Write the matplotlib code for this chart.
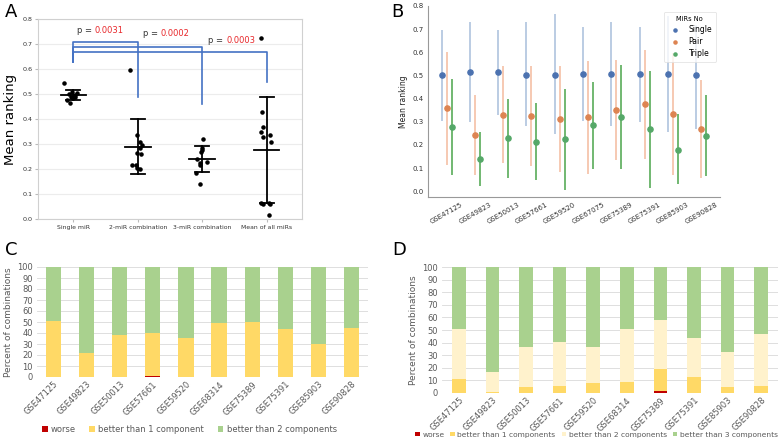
import matplotlib
matplotlib.use('Agg')
import matplotlib.pyplot as plt
import numpy as np

W, H = 778, 438

# ---------- data ----------
# panel A
groups_a = ['Single miR', '2-miR combination', '3-miR combination', 'Mean of all miRs']
means_a = [0.497, 0.290, 0.240, 0.278]
lo_a = [0.476, 0.180, 0.187, 0.065]
hi_a = [0.518, 0.400, 0.293, 0.490]
points_a = [
    [0.545, 0.510, 0.505, 0.500, 0.495, 0.490, 0.490, 0.485, 0.475, 0.465],
    [0.595, 0.335, 0.310, 0.295, 0.285, 0.265, 0.260, 0.215, 0.215, 0.205, 0.200],
    [0.320, 0.285, 0.275, 0.270, 0.240, 0.230, 0.225, 0.215, 0.185, 0.140],
    [0.725, 0.430, 0.370, 0.350, 0.335, 0.330, 0.310, 0.065, 0.060, 0.060, 0.065, 0.015],
]
jitter_a = [
    [-0.14, -0.02, 0.05, -0.07, 0.02, -0.04, 0.03, 0.00, -0.10, -0.05],
    [-0.12, -0.01, 0.04, 0.07, 0.03, -0.02, 0.05, -0.09, -0.03, -0.01, 0.03],
    [0.02, -0.01, 0.00, -0.02, -0.08, 0.07, -0.04, -0.03, -0.10, -0.03],
    [-0.08, -0.07, -0.05, -0.09, 0.05, -0.06, 0.07, 0.04, -0.05, 0.06, -0.08, 0.03],
]
brackets_a = [0.71, 0.69, 0.67]        # heights of the blue brackets
bracket_ends_a = [0.49, 0.46, 0.55]    # lower ends of the right legs
bracket_start_a = 0.63
pvals_a = ['0.0031', '0.0002', '0.0003']
pval_y_a = [0.755, 0.74, 0.715]

# panel B
datasets_b = ['GSE47125', 'GSE49823', 'GSE50013', 'GSE57661', 'GSE59520',
              'GSE67075', 'GSE75389', 'GSE75391', 'GSE85903', 'GSE90828']
hue_b = ['Single', 'Pair', 'Triple']
single_mean = [0.500, 0.513, 0.513, 0.503, 0.503, 0.508, 0.505, 0.505, 0.508, 0.502]
single_lo = [0.305, 0.300, 0.330, 0.280, 0.245, 0.305, 0.280, 0.300, 0.255, 0.268]
single_hi = [0.695, 0.730, 0.695, 0.730, 0.765, 0.710, 0.732, 0.708, 0.758, 0.720]
pair_mean = [0.360, 0.243, 0.330, 0.325, 0.312, 0.320, 0.352, 0.375, 0.333, 0.268]
pair_lo = [0.115, 0.070, 0.120, 0.110, 0.083, 0.075, 0.135, 0.140, 0.070, 0.058]
pair_hi = [0.600, 0.415, 0.540, 0.540, 0.540, 0.563, 0.565, 0.610, 0.595, 0.480]
triple_mean = [0.278, 0.138, 0.228, 0.213, 0.225, 0.285, 0.322, 0.267, 0.180, 0.240]
triple_lo = [0.068, 0.022, 0.055, 0.048, 0.007, 0.097, 0.095, 0.012, 0.030, 0.065]
triple_hi = [0.485, 0.255, 0.400, 0.380, 0.443, 0.470, 0.545, 0.520, 0.335, 0.415]

# panel C
datasets_c = ['GSE47125', 'GSE49823', 'GSE50013', 'GSE57661', 'GSE59520',
              'GSE68314', 'GSE75389', 'GSE75391', 'GSE85903', 'GSE90828']
worse_c = [0, 0, 0, 1.0, 0, 0, 0, 0, 0, 0]
better1_c = [50.6, 21.8, 37.9, 38.7, 35.5, 49.0, 50.0, 44.0, 30.3, 44.8]
better2_c = [100 - w - b for w, b in zip(worse_c, better1_c)]

# panel D
worse_d = [0, 0, 0, 0, 0, 0, 1.2, 0, 0, 0]
better1_d = [10.9, 0.8, 4.5, 5.3, 8.0, 9.0, 17.7, 12.8, 4.8, 5.9]
better2_d = [39.9, 16.0, 32.2, 35.4, 28.7, 41.8, 39.1, 30.6, 27.4, 40.6]
better3_d = [100 - w - a - b for w, a, b in zip(worse_d, better1_d, better2_d)]

# ---------- helpers ----------
fig = plt.figure(figsize=(W / 100, H / 100), dpi=100)


def box(l, t, r, b):
    return [l / W, 1 - b / H, (r - l) / W, (b - t) / H]


# ---------- A ----------
ax = fig.add_axes(box(38, 19, 302, 219))
x_a = np.arange(len(groups_a))
ax.set_xlim(-0.55, 3.55)
ax.set_ylim(0, 0.8)
for i in x_a:
    ax.scatter(i + np.array(jitter_a[i]), points_a[i], s=5, color='black', zorder=3)
    ax.plot([i - 0.2, i + 0.2], [means_a[i]] * 2, color='black', lw=1.3, zorder=4)
    ax.plot([i, i], [lo_a[i], hi_a[i]], color='black', lw=1.3, zorder=4)
    for v in (lo_a[i], hi_a[i]):
        ax.plot([i - 0.11, i + 0.11], [v, v], color='black', lw=1.3, zorder=4)
for k, (top, end) in enumerate(zip(brackets_a, bracket_ends_a)):
    ax.plot([0, 0, k + 1, k + 1], [bracket_start_a, top, top, end],
            color='#4472C4', lw=1.2, zorder=2)
    ax.text(k + 0.33 + 0.02 * k, pval_y_a[k], 'p = ', ha='right', va='center',
            fontsize=6, color='#333333')
    ax.text(k + 0.33 + 0.02 * k, pval_y_a[k], pvals_a[k], ha='left', va='center',
            fontsize=6, color='#e8272a')
ax.set_xticks(x_a)
ax.set_xticklabels(groups_a, fontsize=4.4)
ax.set_yticks(np.arange(0, 0.81, 0.1))
ax.set_yticklabels([f'{v:.1f}' for v in np.arange(0, 0.81, 0.1)], fontsize=4.6)
ax.tick_params(length=2, color='#bbbbbb', labelcolor='#333333', pad=2)
ax.grid(axis='y', color='#ececec', lw=0.8)
ax.set_axisbelow(True)
for s in ax.spines.values():
    s.set_color('#d0d0d0')
ax.set_ylabel('Mean ranking', fontsize=9.5, labelpad=4)
fig.text(5 / W, 1 - 12 / H, 'A', fontsize=13, va='center', ha='left')

# ---------- B ----------
ax = fig.add_axes(box(428, 6, 720, 197))
x_b = np.arange(len(datasets_b))
offs = [-0.177, 0, 0.177]
cols = ['#4C72B0', '#DD8452', '#55A868']
line_cols = ['#b5c8e0', '#f6c5ad', '#66b266']
series = [(single_mean, single_lo, single_hi),
          (pair_mean, pair_lo, pair_hi),
          (triple_mean, triple_lo, triple_hi)]
for (m, lo, hi), off, c, lc, name in zip(series, offs, cols, line_cols, hue_b):
    ax.vlines(x_b + off, lo, hi, color=lc, lw=1.3)
    ax.scatter(x_b + off, m, s=14, color=c, zorder=3, label=name)
ax.set_xlim(-0.66, 9.67)
ax.set_ylim(-0.025, 0.8)
ax.set_xticks(x_b)
ax.set_xticklabels(datasets_b, rotation=30, fontsize=5, ha='center', color='#333333')
ax.set_yticks(np.arange(0, 0.81, 0.1))
ax.set_yticklabels([f'{v:.1f}' for v in np.arange(0, 0.81, 0.1)], fontsize=5, color='#333333')
ax.tick_params(length=0, pad=3)
for s in ['top', 'right']:
    ax.spines[s].set_visible(False)
for s in ['left', 'bottom']:
    ax.spines[s].set_color('#999999')
ax.set_ylabel('Mean ranking', fontsize=5.5, labelpad=3, color='#222222')
leg = ax.legend(title='MiRs No', loc='upper right', bbox_to_anchor=(1.0, 0.99),
                fontsize=5.5, title_fontsize=4.8, frameon=True, markerscale=0.6,
                handletextpad=0.8, labelspacing=0.4, borderpad=0.5)
leg.get_frame().set_edgecolor('#dddddd')
leg.get_frame().set_linewidth(0.6)
fig.text(391 / W, 1 - 12 / H, 'B', fontsize=13, va='center', ha='left')

# ---------- C and D ----------
red, gold, cream, green = '#C00000', '#FFD966', '#FFF2CC', '#A9D18E'


def excel_axes(ax, labels):
    ax.set_ylim(0, 100)
    ax.set_xlim(-0.5, len(labels) - 0.5)
    ax.set_yticks(range(0, 101, 10))
    ax.set_xticks(range(len(labels)))
    ax.set_xticklabels(labels, rotation=45, ha='right', rotation_mode='anchor',
                       fontsize=6, color='#595959')
    ax.tick_params(axis='y', labelsize=6, labelcolor='#595959', length=0, pad=3)
    ax.tick_params(axis='x', length=0, pad=2)
    ax.grid(axis='y', color='#d9d9d9', lw=0.6)
    ax.set_axisbelow(True)
    for s in ax.spines.values():
        s.set_visible(False)
    ax.set_ylabel('Percent of combinations', fontsize=6.5, color='#595959', labelpad=3)


ax = fig.add_axes(box(37, 267, 368, 377))
xc = np.arange(len(datasets_c))
bw = 0.46
ax.bar(xc, worse_c, bw, color=red, label='worse')
ax.bar(xc, better1_c, bw, bottom=worse_c, color=gold, label='better than 1 component')
ax.bar(xc, better2_c, bw, bottom=np.add(worse_c, better1_c), color=green,
       label='better than 2 components')
excel_axes(ax, datasets_c)
ax.legend(loc='center', bbox_to_anchor=(0.46, -0.48), ncol=3, fontsize=6,
          frameon=False, handlelength=0.7, handleheight=0.7, columnspacing=1.6,
          handletextpad=0.4, labelcolor='#595959')
fig.text(5 / W, 1 - 250 / H, 'C', fontsize=13, va='center', ha='left')

ax = fig.add_axes(box(442, 267, 778, 393))
xd = np.arange(len(datasets_c))
ax.bar(xd, worse_d, 0.4, color=red, label='worse')
ax.bar(xd, better1_d, 0.4, bottom=worse_d, color=gold, label='better than 1 components')
b2 = np.add(worse_d, better1_d)
ax.bar(xd, better2_d, 0.4, bottom=b2, color=cream, label='better than 2 components')
ax.bar(xd, better3_d, 0.4, bottom=b2 + np.array(better2_d), color=green,
       label='better than 3 components')
excel_axes(ax, datasets_c)
ax.legend(loc='center', bbox_to_anchor=(0.46, -0.33), ncol=4, fontsize=5.4,
          frameon=False, handlelength=0.6, handleheight=0.6, columnspacing=0.8,
          handletextpad=0.35, labelcolor='#595959')
fig.text(392 / W, 1 - 250 / H, 'D', fontsize=13, va='center', ha='left')

fig.savefig('out.png', dpi=100)
